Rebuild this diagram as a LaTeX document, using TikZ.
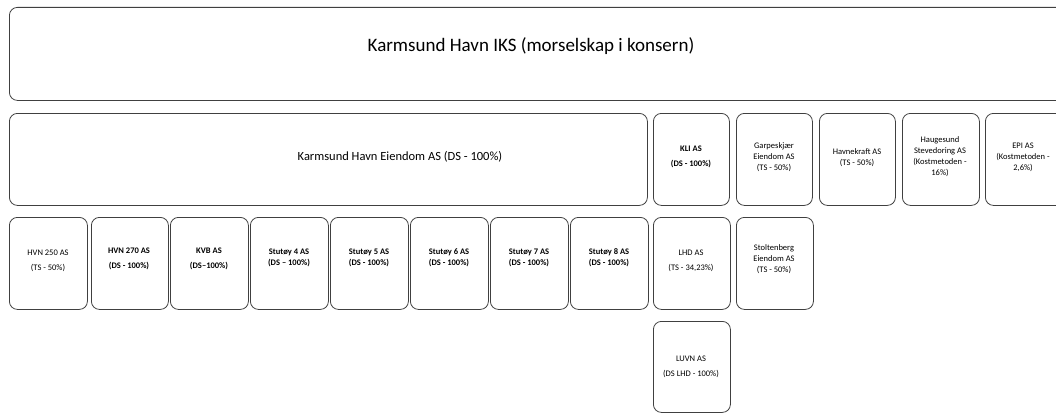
\documentclass[tikz,border=0pt]{standalone}
\usepackage{fontspec}
\setmainfont{Carlito}
\begin{document}
\begin{tikzpicture}[x=1pt,y=-1pt,
  box/.style={draw=black!75, line width=0.8pt, rounded corners=8pt, anchor=north west, inner sep=0pt},
  txt/.style={align=center, inner sep=0pt},
  small/.style={txt, font=\fontsize{8.5}{11}\selectfont},
  smallb/.style={txt, font=\fontsize{8.5}{11}\selectfont\bfseries}]
\useasboundingbox (0,0) rectangle (1056,412);
\clip (0,0) rectangle (1056,412);
% top
\node[box, minimum width=1070pt, minimum height=93pt] (top) at (9,7) {};
\node[txt, font=\fontsize{19}{22}\selectfont] (toptxt) at (531,46) {Karmsund Havn IKS (morselskap i konsern)};
% row 1
\node[box, minimum width=638pt, minimum height=92pt] (eiendom) at (9,113) {};
\node[txt, font=\fontsize{12.5}{15}\selectfont] (eiendomtxt) at (400,157) {Karmsund Havn Eiendom AS (DS - 100\%)};
\node[box, minimum width=76pt, minimum height=92pt] (kli) at (653,113) {};
\node[smallb] (klitxt) at (691,157) {KLI AS\\[4pt](DS - 100\%)};
\node[box, minimum width=76pt, minimum height=92pt] (garp) at (736,113) {};
\node[small] (garptxt) at (774,157) {Garpeskjær\\Eiendom AS\\(TS - 50\%)};
\node[box, minimum width=76pt, minimum height=92pt] (havnek) at (819,113) {};
\node[small] (havnektxt) at (857,158) {Havnekraft AS\\(TS - 50\%)};
\node[box, minimum width=77pt, minimum height=92pt] (haug) at (902,113) {};
\node[small] (haugtxt) at (940,157) {Haugesund\\Stevedoring AS\\(Kostmetoden -\\16\%)};
\node[box, minimum width=80pt, minimum height=92pt] (epi) at (985,113) {};
\node[small] (epitxt) at (1023,157) {EPI AS\\(Kostmetoden -\\2,6\%)};
% row 2
\node[box, minimum width=78pt, minimum height=92pt] (hvn250) at (9,217) {};
\node[small] (hvn250txt) at (48,261) {HVN 250 AS\\[4pt](TS - 50\%)};
\node[box, minimum width=77pt, minimum height=92pt] (hvn270) at (91,217) {};
\node[smallb] (hvn270txt) at (129,259) {HVN 270 AS\\[4pt](DS - 100\%)};
\node[box, minimum width=78pt, minimum height=92pt] (kvb) at (170,217) {};
\node[smallb] (kvbtxt) at (209,259) {KVB AS\\[4pt](DS–100\%)};
\node[box, minimum width=78pt, minimum height=92pt] (s4) at (250,217) {};
\node[smallb] (s4txt) at (289,258) {Stutøy 4 AS\\(DS – 100\%)};
\node[box, minimum width=78pt, minimum height=92pt] (s5) at (330,217) {};
\node[smallb] (s5txt) at (369,258) {Stutøy 5 AS\\(DS - 100\%)};
\node[box, minimum width=78pt, minimum height=92pt] (s6) at (410,217) {};
\node[smallb] (s6txt) at (449,258) {Stutøy 6 AS\\(DS - 100\%)};
\node[box, minimum width=78pt, minimum height=92pt] (s7) at (490,217) {};
\node[smallb] (s7txt) at (529,258) {Stutøy 7 AS\\(DS - 100\%)};
\node[box, minimum width=78pt, minimum height=92pt] (s8) at (570,217) {};
\node[smallb] (s8txt) at (609,258) {Stutøy 8 AS\\(DS - 100\%)};
\node[box, minimum width=77pt, minimum height=92pt] (lhd) at (653,217) {};
\node[small] (lhdtxt) at (691,261) {LHD AS\\[4pt](TS - 34,23\%)};
\node[box, minimum width=77pt, minimum height=92pt] (stolt) at (736,217) {};
\node[small] (stolttxt) at (774,259) {Stoltenberg\\Eiendom AS\\(TS - 50\%)};
% row 3
\node[box, minimum width=77pt, minimum height=91pt] (luvn) at (653,321) {};
\node[small] (luvntxt) at (691,367) {LUVN AS\\[4pt](DS LHD - 100\%)};
\end{tikzpicture}
\end{document}
